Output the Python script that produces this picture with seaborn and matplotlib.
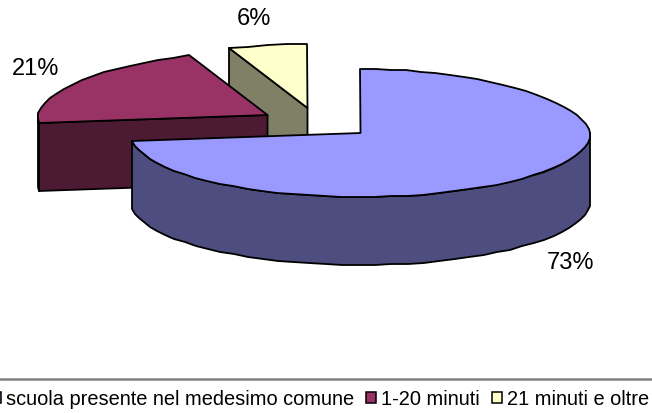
import numpy as np
import matplotlib
matplotlib.use("Agg")
import matplotlib.pyplot as plt
from matplotlib.patches import Patch
import seaborn as sns

# Distance to the school, share of pupils (%)
categories = ["scuola presente nel medesimo comune", "1-20 minuti", "21 minuti e oltre"]
shares = [73, 21, 6]
share_labels = ["73%", "21%", "6%"]
top_colors = ["#9999FF", "#993366", "#FFFFCC"]

# Pie geometry in figure pixels
RX, RY = 230, 64
DEPTH = 68
TAPER = 0.075
hubs = [(360.5, 134), (267.5, 116), (307.5, 109)]
label_spots = [(570, 263), (36, 69), (254, 19)]

sns.set_theme(style="white")
plt.rcParams["font.family"] = ["Liberation Sans", "DejaVu Sans"]
plt.rcParams["text.color"] = "black"
top_palette = sns.color_palette(top_colors)
side_palette = [tuple(0.5 * c for c in col) for col in top_palette]

fig = plt.figure(figsize=(6.52, 4.14), dpi=100)
ax = fig.add_axes([0, 0, 1, 1])
ax.set_xlim(0, 652)
ax.set_ylim(414, 0)
ax.axis("off")


def rim(hub, deg):
    """Rim points of a tilted pie for the given angles, to the whole pixel."""
    rad = np.radians(deg)
    # The far half of the pie narrows slightly with distance
    scale = 1 - TAPER * np.clip(np.sin(rad), 0, None)
    x = hub[0] + RX * scale * np.cos(rad)
    y = hub[1] - RY * np.sin(rad)
    return np.round(np.column_stack([x, y]))


def face(points, color):
    ax.fill(points[:, 0], points[:, 1], facecolor=color, edgecolor="black",
            linewidth=1.3, joinstyle="round")


# Slices run clockwise from twelve o'clock; angles fall from 90 degrees
edges = 90 - np.cumsum([0] + shares) * 3.6
drop = np.array([0, DEPTH])

# Draw back to front: small slice, middle slice, large slice
for i in [2, 1, 0]:
    start, end = edges[i], edges[i + 1]
    hub = np.array(hubs[i], dtype=float)
    arc = rim(hub, np.linspace(start, end, max(int((start - end) / 4), 4)))
    lead = rim(hub, np.array([start]))[0]
    # Cut face along the slice's leading radius, turned toward the viewer
    if i > 0:
        face(np.array([lead, hub, hub + drop, lead + drop]), side_palette[i])
    # Outer wall: only the part of the rim on the near half
    near = {0: (0, end), 1: (start, -180)}.get(i)
    if near is not None:
        steps = max(int(abs(near[0] - near[1]) / 4), 3)
        wall = rim(hub, np.linspace(near[0], near[1], steps))
        face(np.vstack([wall, (wall + drop)[::-1]]), side_palette[i])
    face(np.vstack([hub, arc]), top_palette[i])

for (x, y), text in zip(label_spots, share_labels):
    ax.text(x, y, text, ha="center", va="center", fontsize=17, color="black")

# Legend strip running past the figure edges
ax.axhline(380, color="#808080", linewidth=1.8)
handles = [Patch(facecolor=c, edgecolor="black", linewidth=1.1) for c in top_palette]
ax.legend(handles, categories, loc="center left", bbox_to_anchor=(-9, 400),
          bbox_transform=ax.transData, ncols=3, frameon=False, fontsize=14.4,
          handlelength=0.5, handleheight=0.5, handletextpad=0.25,
          columnspacing=0.6, borderpad=0, borderaxespad=0, labelspacing=0,
          labelcolor="black")

fig.savefig("out.png", dpi=100)
